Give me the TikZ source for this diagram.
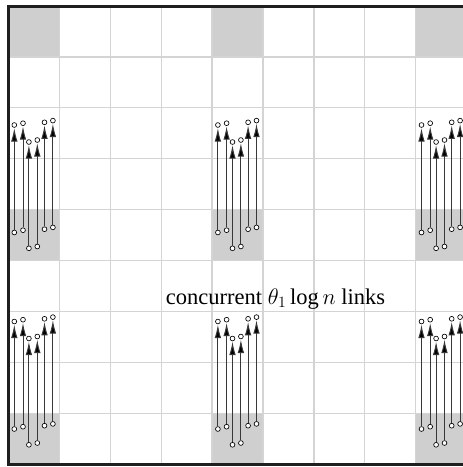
\documentclass[tikz,border=0pt]{standalone}
\usepackage{fontspec}
\setmainfont{Liberation Serif}
\usepackage{fix-cm}
\usetikzlibrary{arrows.meta}
\begin{document}
\begin{tikzpicture}[x=1pt,y=-1pt,
  gridline/.style={draw=black!17,line width=1.3pt},
  cellfill/.style={fill=black!19},
  frame/.style={draw=black!88,line width=3pt},
  endpt/.style={circle,draw=black,line width=0.65pt,inner sep=0pt,minimum size=4.8pt,fill=white},
  link/.style={draw=black!78,line width=1pt,-{Latex[length=13.5pt,width=6.5pt,fill=black]},shorten >=0.3pt},
  lbl/.style={font=\fontsize{22.5}{25}\selectfont}]
\useasboundingbox (0,0) rectangle (463,467);
\clip (0,0) rectangle (463,467);
\def\s{50.9}
% shaded cells
\foreach \c in {0,4,8}
  \foreach \r in {0,4,8}
    \fill[cellfill] ({8.5+\c*\s},{6+\r*\s}) rectangle +(\s,\s);
% grid
\foreach \k in {1,...,8} {
  \draw[gridline] ({8.5+\k*\s},6) -- ({8.5+\k*\s},{6+9*\s});
  \draw[gridline] (8.5,{6+\k*\s}) -- ({8.5+9*\s},{6+\k*\s});
}
% frame
\draw[frame] (8.5,6) rectangle ({8.5+9*\s},{6+9*\s});
% links
\foreach \c in {0,4,8}
  \foreach \g/\dy in {0/0,1/196.5}
    \foreach \i/\dx/\t/\b in {1/5.8/125/232.5,2/14.5/123.2/230.2,3/20.4/142/248.3,4/28.8/140/246.5,5/36/122.3/229.2,6/44.4/120.6/227.4} {
      \node[endpt] (t\c\g\i) at ({8.5+\c*\s+\dx},{\t+\dy}) {};
      \node[endpt] (b\c\g\i) at ({8.5+\c*\s+\dx},{\b+\dy}) {};
      \draw[link] (b\c\g\i) -- (t\c\g\i);
    }
% label
\node[lbl,anchor=base] (cap) at (275.5,304.3) {concurrent $\theta_1\log n$ links};
\end{tikzpicture}
\end{document}
